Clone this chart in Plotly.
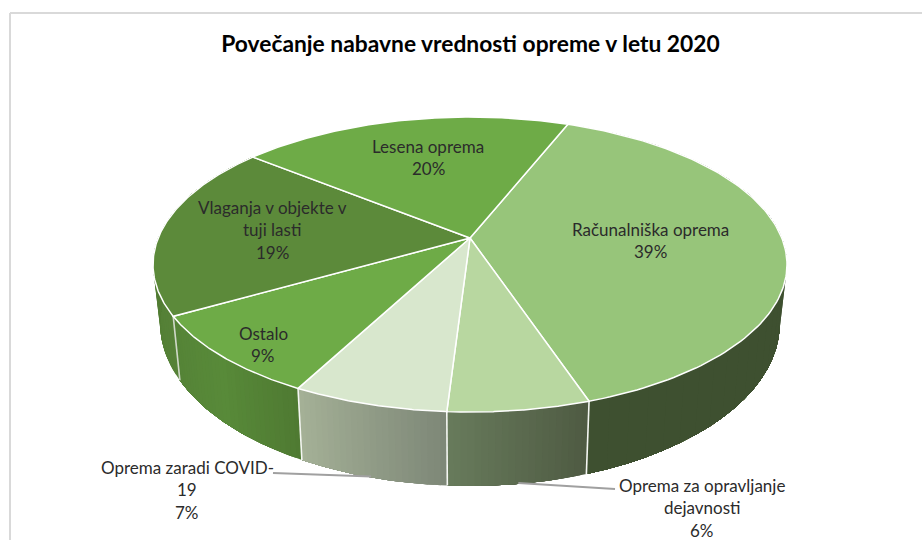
import numpy as np
import plotly.graph_objects as go

title = "Povečanje nabavne vrednosti opreme v letu 2020"
categories = ["Računalniška oprema", "Oprema za opravljanje dejavnosti",
              "Oprema zaradi COVID-19", "Ostalo",
              "Vlaganja v objekte v tuji lasti", "Lesena oprema"]
values = [38.9, 6.1, 6.7, 9.0, 19.2, 20.1]
percent_labels = ["39%", "6%", "7%", "9%", "19%", "20%"]

label_lines = [
    ["Računalniška oprema", "39%"],
    ["Oprema za opravljanje", "dejavnosti", "6%"],
    ["Oprema zaradi COVID-", "19", "7%"],
    ["Ostalo", "9%"],
    ["Vlaganja v objekte v", "tuji lasti", "19%"],
    ["Lesena oprema", "20%"],
]
label_centers = [(650.5, 229), (702, 485), (187, 467), (263, 333), (272, 207), (428, 146)]
leader_ends = [None, (615, 489), (273, 473), None, None, None]

top_colors = ["#97C57A", "#B8D7A0", "#D8E7CD", "#6EAB47", "#5C8A3A", "#6EAB47"]
# wall colours, left to right on the page
wall_stops = [
    ["#3E5030", "#3E5030"],
    ["#687B5C", "#4E5A42"],
    ["#A5B197", "#7D8777"],
    ["#558337", "#588A39", "#4F7A32"],
    ["#4A7229", "#568238"],
    ["#4A7229", "#4A7229"],
]

# Projection of the pie's top and bottom discs onto the page
CX, TOP_Y, BOT_Y = 470, 238, 294
PERSP, TOP_A, BOT_A = -0.18, 142.7, 157.4
TOP_D, BOT_D = 311.8, 304.8
START_DEG = 21.5


def project(theta, disc_y, a, d):
    r = np.radians(theta)
    u, v = np.sin(r), -np.cos(r)
    w = 1 + PERSP * v
    return CX + d * u / w, disc_y + a * v / w


def top_rim(theta):
    return project(theta, TOP_Y, TOP_A, TOP_D)


def bottom_rim(theta):
    return project(theta, BOT_Y, BOT_A, BOT_D)


def hex_rgb(h):
    return np.array([int(h[i:i + 2], 16) for i in (1, 3, 5)], dtype=float)


def gradient(stops, t):
    pos = t * (len(stops) - 1)
    i = min(int(pos), len(stops) - 2)
    c = hex_rgb(stops[i]) * (1 - (pos - i)) + hex_rgb(stops[i + 1]) * (pos - i)
    return "rgb(%d,%d,%d)" % tuple(np.round(c))


def poly(xs, ys, fill, line, width):
    return go.Scatter(x=list(xs), y=list(ys), mode="lines", fill="toself",
                      fillcolor=fill, line=dict(color=line, width=width),
                      hoverinfo="skip", showlegend=False)


fractions = np.array(values) / sum(values)
edges = START_DEG + 360 * np.concatenate([[0], np.cumsum(fractions)])

fig = go.Figure()

# side walls: each strip runs to the slice's end and is overpainted by the next,
# so that the gradient has no seams
for i in range(5):
    a0, a1 = edges[i], edges[i + 1]
    n = max(2, min(40, int((a1 - a0) / 1.0)))
    grid = np.linspace(a0, a1, n + 1)
    for k in range(n):
        th = np.linspace(grid[k], a1, max(3, n - k + 1))
        xt, yt = top_rim(th)
        xb, yb = bottom_rim(th[::-1])
        c = gradient(wall_stops[i], 1 - (k + 0.5) / n)
        fig.add_trace(poly(np.r_[xt, xb, xt[0]], np.r_[yt, yb, yt[0]], c, c, 0))

# edges between the walls
for i in range(1, 5):
    xt, yt = top_rim(edges[i])
    xb, yb = bottom_rim(edges[i])
    col = "#F4F6F2" if i < 4 else "#D0D8C8"
    fig.add_trace(go.Scatter(x=[xt, xb], y=[yt, yb], mode="lines",
                             line=dict(color=col, width=1.6),
                             hoverinfo="skip", showlegend=False))

# top face
for i in range(6):
    th = np.linspace(edges[i], edges[i + 1], 120)
    xr, yr = top_rim(th)
    fig.add_trace(poly(np.r_[CX, xr, CX], np.r_[TOP_Y, yr, TOP_Y],
                       top_colors[i], "#FFFFFF", 1.5))

annotations = []
LINE_STEP = 22.8
for lines, (cx, cy) in zip(label_lines, label_centers):
    for j, text in enumerate(lines):
        annotations.append(dict(x=cx, y=cy + j * LINE_STEP, text=text, xref="x", yref="y",
                                showarrow=False, xanchor="center", yanchor="middle",
                                font=dict(family="Lato", size=17, color="#2B2B2B")))

# leader lines from the slice's outer wall to its outside label
shapes = []
for i, end in enumerate(leader_ends):
    if end is None:
        continue
    mid = (edges[i] + edges[i + 1]) / 2
    x0, y0 = bottom_rim(mid)
    shapes.append(dict(type="line", x0=float(x0), y0=float(y0) - 1, x1=end[0], y1=end[1],
                       xref="x", yref="y", line=dict(color="#A0A0A0", width=2)))

# chart frame
shapes.append(dict(type="line", x0=10, y0=13, x1=922, y1=13, xref="x", yref="y",
                   line=dict(color="#D9D9D9", width=2)))
shapes.append(dict(type="line", x0=10, y0=13, x1=10, y1=540, xref="x", yref="y",
                   line=dict(color="#D9D9D9", width=2)))

fig.update_layout(
    width=922, height=540, margin=dict(l=0, r=0, t=0, b=0),
    paper_bgcolor="white", plot_bgcolor="white", showlegend=False,
    xaxis=dict(range=[0, 922], visible=False, fixedrange=True),
    yaxis=dict(range=[540, 0], visible=False, fixedrange=True),
    title=dict(text=title, x=470.5 / 922, y=1 - 44 / 540, xanchor="center", yanchor="middle",
               font=dict(family="Lato", size=22.8, color="#000000", weight="bold")),
    annotations=annotations, shapes=shapes,
)
fig.write_html("out.html", config={"displayModeBar": False},
               post_script="document.body.style.margin='0';document.body.style.overflow='hidden';")
